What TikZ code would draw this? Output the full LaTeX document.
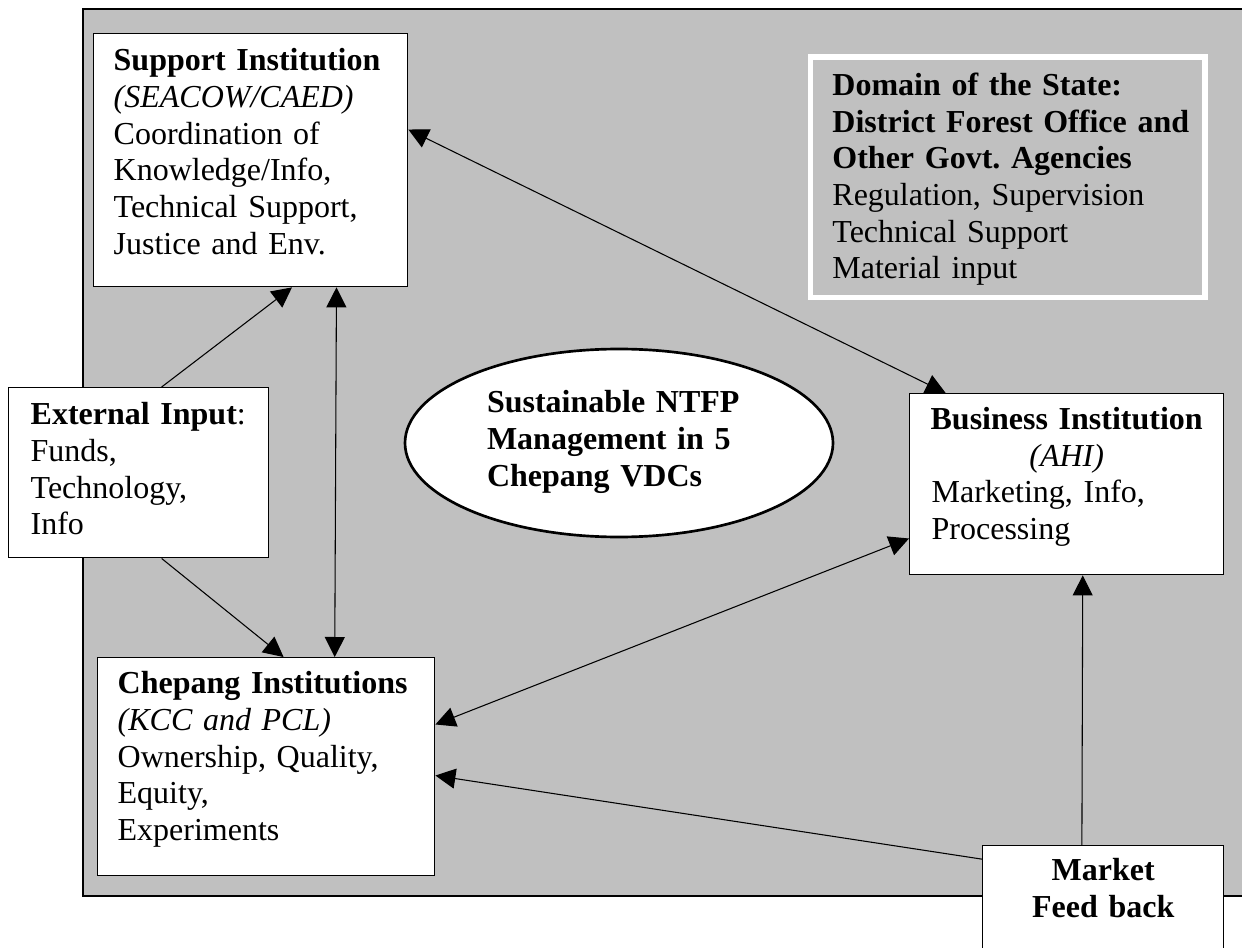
\documentclass[tikz,border=0pt]{standalone}
\usepackage{fontspec}
\setmainfont{Liberation Serif}
\frenchspacing
\usetikzlibrary{arrows.meta,shapes.geometric}
\definecolor{BackClr}{RGB}{192,192,192}

\tikzset{
  inst/.style={draw=black,line width=0.5pt,fill=white,anchor=north west,
    inner ysep=0pt,align=left,font=\fontsize{12}{13.75}\selectfont},
  link/.style={line width=0.4pt,-{Triangle[length=7.5pt,width=7.5pt]}},
  both/.style={line width=0.4pt,{Triangle[length=7.5pt,width=7.5pt]}-{Triangle[length=7.5pt,width=7.5pt]}}
}

\begin{document}
\begin{tikzpicture}[x=0.375pt,y=-0.375pt]
\useasboundingbox (0,0) rectangle (1242,948);

% background frame
\draw[fill=BackClr,line width=0.6pt] (83,9) rectangle (1262,896);

% boxes
\node[inst,inner xsep=7.5pt,text width=102.75pt,text height=13.9pt,text depth=81pt] (sup) at (93,33)
  {\textbf{Support Institution}\\\textit{(SEACOW/CAED)}\\Coordination of\\Knowledge/Info,\\Technical Support,\\Justice and Env.};

\node[inst,draw=white,line width=1.9pt,fill=BackClr,inner xsep=8.4pt,text width=131.3pt,text height=14.4pt,text depth=75.9pt] (dom) at (807.5,54.5)
  {\textbf{Domain of the State:}\\\mbox{\textbf{District Forest Office and}}\\\textbf{Other Govt. Agencies}\\Regulation, Supervision\\Technical Support\\Material input};

\node[inst,inner xsep=8.25pt,text width=81pt,text height=13.9pt,text depth=49.9pt] (ext) at (8,387)
  {\textbf{External Input}:\\Funds,\\Technology,\\Info};

\node[inst,inner xsep=7.5pt,text width=111.4pt,text height=13.5pt,text depth=68.25pt] (chep) at (97,657)
  {\textbf{Chepang Institutions}\\\textit{(KCC and PCL)}\\Ownership, Quality,\\Equity,\\Experiments};

\node[inst,inner xsep=8.25pt,text width=101.25pt,text height=13.5pt,text depth=54.4pt] (biz) at (909,393)
  {\makebox[\linewidth]{\textbf{Business Institution}}\\\makebox[\linewidth]{\textit{(AHI)}}\\Marketing, Info,\\Processing};

\node[inst,align=center,inner xsep=5pt,text width=80.4pt,text height=13.1pt,text depth=35.6pt] (mkt) at (982,845)
  {\textbf{Market}\\\textbf{Feed back}};

\node[draw,ellipse,line width=1pt,fill=white,minimum width=160.5pt,minimum height=70.5pt,inner sep=0pt,
  text width=99pt,align=left,text height=3.75pt,text depth=26.25pt,font=\fontsize{12}{13.75}\selectfont\bfseries] (ntfp) at (619,443)
  {Sustainable NTFP\\Management in 5\\Chepang VDCs};

% connectors
\draw[both] (sup.11.3) -- (biz.143);
\draw[link] (ext.75.5) -- (sup.-72.2);
\draw[link] (ext.-75.5) -- (chep.81);
\draw[both] (sup.-56.7) -- (chep.58.2);
\draw[both] (biz.199.8) -- (chep.14.3);
\draw[link] (mkt.157.8) -- (chep.-3.7);
\draw[link] (mkt.108.3) -- (biz.-80.6);

\end{tikzpicture}
\end{document}
